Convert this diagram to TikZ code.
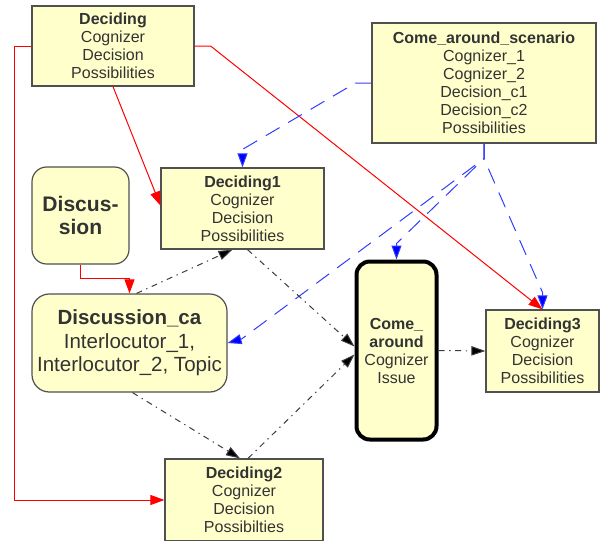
\documentclass[tikz,border=0pt]{standalone}
\usepackage{fontspec}
\setmainfont{Liberation Sans}
\usetikzlibrary{arrows.meta,calc}

\begin{document}
\begin{tikzpicture}[x=0.75pt,y=0.75pt,yscale=-1,
  frame/.style={draw={rgb,255:red,80;green,80;blue,80},fill={rgb,255:red,255;green,255;blue,204},line width=0.9pt,text={rgb,255:red,51;green,51;blue,51},align=center,inner sep=0pt,font=\fontsize{12}{13.5}\selectfont},
  rframe/.style={frame,rounded corners=11pt},
  redline/.style={draw=red,line width=0.75pt,-{Triangle[length=10.5pt,width=7.5pt]}},
  blueline/.style={draw={rgb,255:red,50;green,60;blue,255},line width=0.75pt,dash pattern=on 12pt off 7.5pt,-{Triangle[length=10.5pt,width=7.5pt,fill=blue]}},
  flow/.style={draw={rgb,255:red,60;green,60;blue,60},line width=0.75pt,dash pattern=on 4.5pt off 3.5pt on 1pt off 3.5pt,-{Triangle[length=10.5pt,width=7pt,fill=black]}}
]
\useasboundingbox (0,0) rectangle (600,540);

%Shape: Rectangle [Deciding]
\draw (113,46) node [frame,minimum width=121.5pt,minimum height=60pt] (dec) {\textbf{Deciding}\\Cognizer\\Decision\\Possibilities};
%Shape: Rectangle [Come_around_scenario]
\draw (484,83) node [frame,minimum width=168pt,minimum height=90pt] (cas) {\textbf{Come\_around\_scenario}\\Cognizer\_1\\Cognizer\_2\\Decision\_c1\\Decision\_c2\\Possibilities};
%Shape: Rectangle [Deciding1]
\draw (242.5,208.5) node [frame,minimum width=122.25pt,minimum height=60.75pt] (dec1) {\textbf{Deciding1}\\Cognizer\\Decision\\Possibilities};
%Shape: Rounded Rect [Discussion]
\draw (80.5,215.5) node [rframe,minimum width=72.75pt,minimum height=72.75pt,font=\fontsize{15.8}{17.5}\selectfont\bfseries] (disc) {Discus-\\sion};
%Shape: Rounded Rect [Discussion_ca]
\draw (129.5,343) node [rframe,rounded corners=13pt,minimum width=146.25pt,minimum height=73.5pt,font=\fontsize{15.4}{17.6}\selectfont] (discca) {\textbf{Discussion\_ca}\\Interlocutor\_1,\\Interlocutor\_2, Topic};
%Shape: Rounded Rect [Come_around]
\draw (396.5,350.5) node [rframe,rounded corners=10pt,draw=black,line width=3pt,minimum width=60pt,minimum height=133.5pt] (come) {\textbf{Come\_}\\\textbf{around}\\Cognizer\\Issue};
%Shape: Rectangle [Deciding3]
\draw (542.5,351) node [frame,minimum width=84.75pt,minimum height=61.5pt] (dec3) {\textbf{Deciding3}\\Cognizer\\Decision\\Possibilities};
%Shape: Rectangle [Deciding2]
\draw (244,500) node [frame,minimum width=118.5pt,minimum height=61.5pt] (dec2) {\textbf{Deciding2}\\Cognizer\\Decision\\Possibilties};

%Straight Lines [red]
\draw [redline] (dec.west) -- ++(-17,0) |- (dec2.west);
\draw [redline] (dec.south) -- ($(dec1.west)+(0,-3)$);
\draw [redline] (dec.east) -- ++(16,0) -- (dec3.north);
\draw [redline] (disc.south) -- ++(0,14) -| (discca.north);

%Straight Lines [blue]
\coordinate (fork) at ($(cas.south)+(0,15)$);
\draw [blueline] (cas.west) -- ++(-16,0) -- ($(dec1.north)+(0,-18)$) -- (dec1.north);
\draw [blueline] (cas.south) -- (fork) -- ($(come.north)+(0,-16)$) -- (come.north);
\draw [blueline] (cas.south) -- (fork) -- ($(discca.east)+(14,-4)$) -- (discca.east);
\draw [blueline] (cas.south) -- (fork) -- ($(dec3.north)+(0,-17)$) -- (dec3.north);

%Straight Lines [black]
\draw [flow] ($(discca.north)+(7,0)$) -- ($(dec1.south)+(-10,0)$);
\draw [flow] ($(dec1.south)+(5,0)$) -- ($(come.west)+(0,-4)$);
\draw [flow] ($(discca.south)+(3,0)$) -- ($(dec2.north)+(-4,0)$);
\draw [flow] ($(dec2.north)+(4,0)$) -- ($(come.west)+(0,4)$);
\draw [flow] (come.east) -- (dec3.west);

\end{tikzpicture}
\end{document}
